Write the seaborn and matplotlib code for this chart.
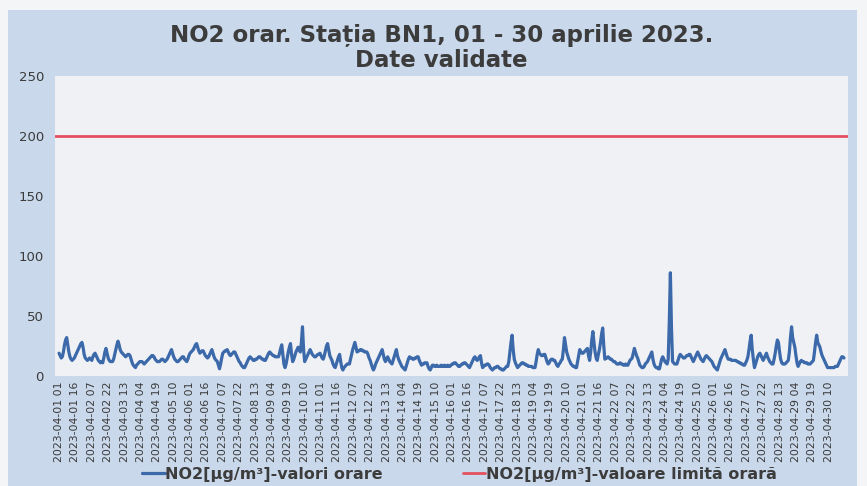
import matplotlib
matplotlib.use("Agg")
import matplotlib.pyplot as plt
import seaborn as sns
import pandas as pd
from matplotlib.patches import Rectangle

# ---- data (hourly NO2, µg/m³), one list per day, hours 01..24 ----
d01 = [19,17,15,16,20,26,30,32,26,20,16,14,13,14,15,17,19,21,23,25,27,28,24,18]
d02 = [15,14,13,14,15,14,13,16,18,19,17,15,13,12,11,12,11,15,20,23,19,15,13,12]
d03 = [12,12,14,18,22,26,29,26,22,20,19,18,17,16,17,18,18,17,14,11,9,8,7,9]
d04 = [10,11,12,12,12,11,10,11,12,13,14,15,16,17,17,16,14,13,12,12,12,13,14,14]
d05 = [13,12,13,14,16,18,20,22,19,16,14,13,12,12,13,14,15,16,16,14,13,12,14,17]
d06 = [19,20,21,22,24,26,27,24,21,19,20,21,21,19,17,16,15,16,18,20,22,19,16,14]
d07 = [13,12,9,6,10,15,19,20,21,21,22,20,18,17,18,19,20,20,18,16,14,12,11,9]
d08 = [8,7,7,9,11,13,15,16,15,14,13,13,14,14,15,16,16,15,14,14,13,13,15,17]
d09 = [19,20,19,18,17,17,16,16,16,16,19,23,26,18,10,7,10,15,20,24,27,18,12,14]
d10 = [17,20,22,24,22,20,28,41,22,12,14,16,18,20,22,20,18,17,16,16,17,18,18,19]
d11 = [17,15,14,17,21,25,27,22,17,15,13,10,8,7,10,13,16,18,12,7,5,7,8,9]
d12 = [10,10,10,14,18,22,25,28,24,20,21,21,22,22,21,21,20,20,20,18,15,13,10,7]
d13 = [5,7,10,12,14,16,18,20,22,18,14,12,14,16,14,12,11,10,13,16,19,22,17,14]
d14 = [12,10,8,7,6,5,8,11,14,16,15,15,14,14,15,15,16,16,13,11,9,10,10,11]
d15 = [11,11,8,6,5,7,9,9,8,8,9,8,8,8,9,8,8,9,8,8,9,8,8,9]
d16 = [10,10,11,11,10,9,8,8,9,10,10,11,11,10,9,8,7,9,11,13,15,16,14,13]
d17 = [14,16,17,11,7,8,9,9,10,10,9,7,6,5,6,7,7,8,8,7,6,6,5,5]
d18 = [6,7,8,8,12,20,28,34,22,14,11,9,7,8,9,10,11,11,10,10,9,9,8,8]
d19 = [8,8,7,7,7,12,18,22,19,18,17,17,18,18,15,12,10,11,13,14,14,13,13,11]
d20 = [9,8,10,11,13,14,22,32,26,20,17,14,12,10,9,8,8,7,7,12,17,22,20,19]
d21 = [19,20,21,22,23,17,13,20,30,37,28,20,15,13,18,22,28,35,40,25,14,15,15,16]
d22 = [15,14,14,13,12,12,11,10,10,10,11,10,10,9,9,10,9,9,11,13,14,15,19,23]
d23 = [20,17,15,12,9,8,7,7,8,10,11,12,14,16,18,20,14,10,8,7,7,6,6,10]
d24 = [14,16,14,12,11,10,14,45,86,40,12,11,10,10,10,13,16,18,17,16,15,15,16,17]
d25 = [17,18,18,16,14,12,14,16,18,20,18,16,14,13,12,14,16,17,16,15,14,13,12,10]
d26 = [8,7,6,5,8,11,14,16,18,20,22,19,16,14,14,14,13,13,13,13,13,12,12,11]
d27 = [11,10,10,9,9,11,13,16,22,29,34,22,14,7,10,13,16,18,19,17,15,13,15,17]
d28 = [19,16,14,12,11,10,10,14,19,25,30,28,20,14,11,10,10,10,11,12,13,20,32,41]
d29 = [32,28,24,17,11,8,10,12,13,12,12,11,11,11,10,10,10,11,12,13,20,28,34,28]
d30 = [26,24,20,17,15,13,11,9,7,7,7,7,7,7,7,8,8,8,10,12,14,16,16,15]

days = [d01, d02, d03, d04, d05, d06, d07, d08, d09, d10, d11, d12, d13, d14, d15,
        d16, d17, d18, d19, d20, d21, d22, d23, d24, d25, d26, d27, d28, d29, d30]
no2_values = [v for d in days for v in d]

limit_value = 200
start_time = "2023-04-01 01:00"
tick_step = 15

title_text = "NO2 orar. Sta\u021bia BN1, 01 - 30 aprilie 2023.\nDate validate"
series_label = "NO2[µg/m³]-valori orare"
limit_label = "NO2[µg/m³]-valoare limită orară"

times = pd.date_range(start_time, periods=len(no2_values), freq="h")
df = pd.DataFrame({"idx": range(len(no2_values)), "no2": no2_values})
tick_pos = list(range(0, len(no2_values), tick_step))
tick_labels = [times[i].strftime("%Y-%m-%d %H") for i in tick_pos]

# ---- style ----
sns.set_theme(style="white")
plt.rcParams["font.family"] = ["DejaVu Sans"]

fig = plt.figure(figsize=(8.67, 4.86), dpi=100)
fig.patch.set_facecolor("#f4f5f7")
fig.patches.append(Rectangle((8 / 867, 0), 849 / 867, 476 / 486,
                             transform=fig.transFigure, facecolor="#c9d8ea",
                             edgecolor="none", zorder=-10))

ax = fig.add_axes([55 / 867, 110 / 486, 793 / 867, 300 / 486])
ax.set_facecolor("#eff1f5")

sns.lineplot(data=df, x="idx", y="no2", ax=ax, color="#3b69aa",
             linewidth=2.3, label=series_label, legend=False)
ax.axhline(limit_value, color="#e4505f", linewidth=2.0, label=limit_label)

ax.set_ylim(0, 250)
ax.set_xlim(-3.7, len(no2_values) - 1 + 3.7)
ax.set_yticks([0, 50, 100, 150, 200, 250])
ax.set_xticks(tick_pos)
ax.set_xticklabels(tick_labels, rotation=90)
ax.tick_params(axis="both", length=0, colors="#3a3a3a")
ax.tick_params(axis="y", labelsize=9.5, pad=8)
ax.tick_params(axis="x", labelsize=7.8, pad=4)
ax.set_xlabel("")
ax.set_ylabel("")
for s in ax.spines.values():
    s.set_visible(False)

fig.suptitle(title_text, x=0.509, y=0.95, fontsize=16.5, fontweight="bold",
             color="#3c3c3c", linespacing=1.08)

handles, labels = ax.get_legend_handles_labels()
leg = fig.legend(handles, labels, loc="center", bbox_to_anchor=(0.53, 0.024),
                 ncol=2, frameon=False, fontsize=11.5, handlelength=1.4,
                 handletextpad=0.05, columnspacing=5.0, borderpad=0.1)
for t in leg.get_texts():
    t.set_fontweight("bold")
    t.set_color("#3c3c3c")

fig.savefig("out.png", dpi=100, facecolor=fig.get_facecolor())
